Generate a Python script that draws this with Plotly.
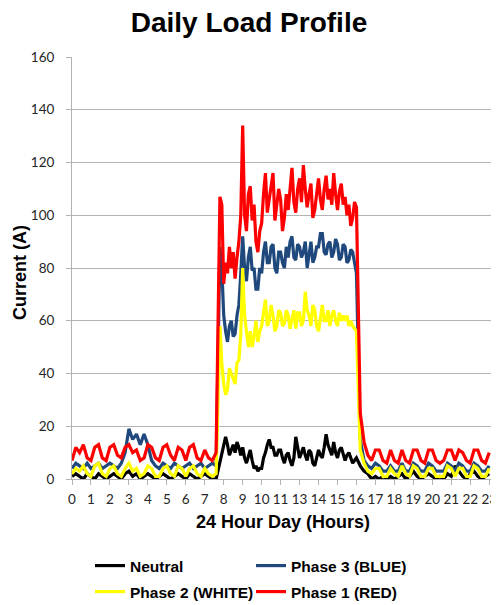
import plotly.graph_objects as go

# ---- data ----
tick_labels = ["0", "1", "2", "3", "4", "5", "6", "7", "8", "9", "10", "11",
               "13", "14", "15", "16", "17", "18", "19", "20", "21", "22", "23"]

# sample positions along the category axis
# (every 0.2 step at night, every 0.1 step during the working day)
time_pos = ([round(0.2 * i, 1) for i in range(39)]
            + [round(7.8 + 0.1 * i, 1) for i in range(73)]
            + [round(15.2 + 0.2 * i, 1) for i in range(35)])

neutral = [1, 2, 1, 0, 2, 1, 0, 2, 1, 0, 1, 2, 1, 0, 2, 3, 1, 2, 0, 1,
           2, 1, 0, 1, 2, 1, 0, 1, 2, 1, 0, 2, 1, 0, 1, 2, 1, 0, 0,
           6, 10, 12, 16, 13, 9, 11, 13, 10, 14, 12, 9, 12, 8, 6, 9, 11, 7, 4, 5, 3, 4,
           4, 8, 10, 13, 15, 12, 12, 9, 9, 11, 11, 8, 6, 9, 10, 7, 5, 8, 16, 12,
           8, 10, 12, 9, 7, 11, 10, 6, 5, 8, 11, 9, 8, 12, 17, 13, 11, 9, 14, 10,
           8, 11, 12, 9, 7, 9, 10, 8, 6, 7, 8,
           5, 3,
           2, 0, 1, 0, 1, 0, 1, 0, 1, 2, 0, 1, 3, 1, 0, 1, 2, 1, 0, 1,
           0, 2, 1, 5, 3, 1, 0, 2, 3, 1, 0, 1, 2]

phase3_blue = [4, 6, 5, 4, 6, 4, 5, 6, 4, 5, 6, 5, 4, 6, 10, 19, 15, 17, 13, 17,
               13, 7, 5, 4, 6, 5, 4, 6, 5, 4, 5, 6, 4, 5, 6, 4, 5, 6, 5,
               88, 80, 62, 56, 52, 58, 60, 54, 55, 62, 66, 78, 92, 80, 75, 84, 88, 79, 80, 72, 72, 80,
               78, 86, 90, 82, 82, 88, 89, 80, 78, 86, 86, 82, 80, 88, 84, 90, 92, 84, 83, 89,
               88, 84, 86, 90, 80, 85, 90, 82, 84, 88, 88, 93, 93, 86, 85, 89, 90, 84, 86, 91,
               89, 83, 84, 89, 88, 82, 83, 87, 86, 82, 78,
               15, 7,
               5, 4, 6, 5, 3, 3, 5, 3, 3, 6, 3, 3, 6, 5, 3, 3, 6, 5, 3, 3,
               3, 6, 5, 3, 6, 5, 3, 3, 6, 5, 3, 3, 5]

phase2_white = [2, 4, 3, 5, 2, 1, 5, 6, 2, 1, 4, 5, 2, 1, 4, 6, 3, 4, 1, 2,
                5, 4, 1, 1, 4, 5, 2, 1, 5, 4, 1, 4, 5, 2, 1, 4, 2, 1, 2,
                58, 44, 36, 32, 34, 42, 40, 38, 36, 44, 45, 55, 80, 62, 55, 50, 56, 50, 54, 60, 52, 56,
                58, 64, 68, 58, 60, 66, 62, 56, 58, 64, 63, 58, 59, 64, 62, 57, 60, 64, 57, 63,
                63, 58, 60, 71, 64, 62, 58, 66, 64, 58, 56, 62, 66, 60, 60, 64, 58, 62, 64, 60,
                58, 63, 60, 62, 60, 62, 58, 60, 58, 57, 56,
                11, 6,
                3, 2, 4, 4, 1, 1, 4, 2, 1, 5, 2, 1, 5, 4, 1, 1, 4, 4, 1, 1,
                1, 5, 4, 1, 4, 4, 1, 1, 5, 4, 1, 1, 4]

phase1_red = [7, 12, 10, 13, 8, 7, 12, 13, 8, 7, 12, 13, 9, 8, 12, 13, 10, 11, 7, 8,
              13, 12, 8, 7, 12, 13, 9, 7, 12, 11, 7, 12, 13, 8, 7, 11, 8, 7, 10,
              107, 104, 74, 82, 78, 88, 80, 86, 76, 84, 90, 100, 134, 100, 94, 108, 111, 98, 104, 90, 86, 94,
              97, 108, 116, 101, 106, 112, 116, 98, 104, 110, 106, 94, 99, 108, 102, 112, 118, 105, 101, 110,
              114, 105, 119, 110, 103, 108, 112, 99, 102, 108, 114, 106, 102, 110, 115, 106, 110, 104, 116, 108,
              102, 109, 112, 104, 107, 100, 104, 96, 99, 105, 103,
              25, 14,
              9, 7, 11, 11, 7, 6, 11, 7, 6, 11, 7, 6, 11, 11, 7, 6, 11, 11, 7, 6,
              7, 11, 11, 7, 11, 10, 7, 6, 11, 11, 7, 6, 10]

series_names = ["Neutral", "Phase 3 (BLUE)", "Phase 2 (WHITE)", "Phase 1 (RED)"]
series_values = [neutral, phase3_blue, phase2_white, phase1_red]
series_colors = ["#000000", "#1F497D", "#FFFF00", "#FF0000"]
legend_ids = ["legend", "legend2", "legend3", "legend4"]

# ---- figure ----
# the page body adds an 8 px margin, so the figure is 8 px smaller each way
# and all positions below are in figure pixels (page pixels minus 8)
W, H = 491, 597
ML, MR, MT, MB = 64, 6, 49, 126
plot_w = W - ML - MR
plot_h = H - MT - MB

fig = go.Figure()
for name, vals, col, lg in zip(series_names, series_values, series_colors, legend_ids):
    fig.add_trace(go.Scatter(x=time_pos, y=vals, mode="lines", name=name,
                             line=dict(color=col, width=3.2), legend=lg,
                             showlegend=True))

legend_font = dict(family="Liberation Sans, Arial, sans-serif", size=15.5,
                   color="#000000", weight="bold")


def legend_at(px, py):
    return dict(x=px / W, y=1 - py / H, xref="container", yref="container",
                xanchor="left", yanchor="middle", orientation="v",
                font=legend_font, bgcolor="rgba(0,0,0,0)", borderwidth=0,
                itemwidth=30, visible=True)


grid_col = "#b3b3b3"
tick_font = dict(family="Lato, Calibri, sans-serif", size=13.5, color="#262626")
axis_title_font = dict(family="Liberation Sans, Arial, sans-serif", size=18,
                       color="#000000", weight="bold")

fig.update_layout(
    width=W, height=H,
    showlegend=True,
    margin=dict(l=ML, r=MR, t=MT, b=MB, autoexpand=False),
    paper_bgcolor="white", plot_bgcolor="white",
    title=dict(text="Daily Load Profile", x=241 / W, xanchor="center",
               y=1 - 14 / H, yanchor="middle", yref="container",
               font=dict(family="Liberation Sans, Arial, sans-serif", size=28,
                         color="#000000", weight="bold")),
    legend=legend_at(82, 558),
    legend2=legend_at(243, 558),
    legend3=legend_at(82, 584),
    legend4=legend_at(243, 584),
    xaxis=dict(
        range=[0, 22.2],
        automargin=False,
        tickmode="array",
        tickvals=list(range(len(tick_labels))),
        ticktext=tick_labels,
        showgrid=False, zeroline=False,
        showline=True, linecolor=grid_col, linewidth=1,
        ticks="outside", ticklen=5, tickcolor=grid_col,
        tickfont=tick_font, ticklabelstandoff=3,
        ticklabeloverflow="allow",
    ),
    yaxis=dict(
        range=[0, 160], dtick=20,
        automargin=False,
        showgrid=True, gridcolor=grid_col, gridwidth=1, zeroline=False,
        showline=True, linecolor=grid_col, linewidth=1,
        ticks="outside", ticklen=5, tickcolor=grid_col,
        tickfont=tick_font, ticklabelstandoff=9,
    ),
    annotations=[
        dict(text="24 Hour Day (Hours)", xref="paper", yref="paper",
             x=0.5, y=0, xanchor="center", yanchor="middle",
             yshift=-43, showarrow=False, font=axis_title_font),
        dict(text="Current (A)", xref="paper", yref="paper",
             x=0, y=0.5, xanchor="center", yanchor="middle", textangle=-90,
             xshift=-52, yshift=-5, showarrow=False, font=axis_title_font),
    ],
)

fig.write_html("out.html")
